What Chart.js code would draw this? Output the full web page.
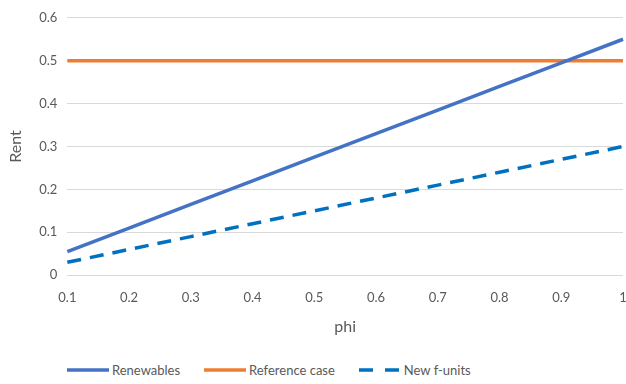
<!DOCTYPE html>
<html>
<head>
<meta charset="utf-8">
<script src="https://cdn.jsdelivr.net/npm/chart.js@4/dist/chart.umd.min.js"></script>
<style>
  body { margin: 0; background: #fff; }
  #wrap { position: relative; width: 626px; height: 384px; }
  #legend { position: absolute; left: 67px; top: 362px; display: flex; font-family: Lato, sans-serif; font-size: 13px; color: #595959; }
  #legend .item { display: flex; align-items: center; margin-right: 24px; }
  #legend svg { margin-right: 3px; }
</style>
</head>
<body>
<div id="wrap">
  <canvas id="myChart" width="626" height="345"></canvas>
  <div id="legend"></div>
</div>
<script>
// x categories (phi)
var phiLabels = ["0.1", "0.2", "0.3", "0.4", "0.5", "0.6", "0.7", "0.8", "0.9", "1"];
// series values
var renewables = [0.055, 0.11, 0.165, 0.22, 0.275, 0.33, 0.385, 0.44, 0.495, 0.55];
var referenceCase = [0.5, 0.5, 0.5, 0.5, 0.5, 0.5, 0.5, 0.5, 0.5, 0.5];
var newFUnits = [0.03, 0.06, 0.09, 0.12, 0.15, 0.18, 0.21, 0.24, 0.27, 0.3];
var yTicks = [0, 0.1, 0.2, 0.3, 0.4, 0.5, 0.6];

var fontName = "Lato, sans-serif";
var textColor = "#595959";

var ctx = document.getElementById("myChart");
var myChart = new Chart(ctx, {
    type: 'line',
    data: {
        labels: phiLabels,
        datasets: [
            {
                label: 'Renewables',
                data: renewables,
                borderColor: "#4472C4",
                borderWidth: 3.5,
                pointRadius: 0
            }, {
                label: 'Reference case',
                data: referenceCase,
                borderColor: "#ED7D31",
                borderWidth: 3.5,
                pointRadius: 0
            }, {
                label: 'New f-units',
                data: newFUnits,
                borderColor: "#0070C0",
                borderWidth: 3.5,
                borderDash: [14, 9],
                pointRadius: 0
            }
        ]
    },
    options: {
        responsive: false,
        animation: false,
        layout: { padding: { top: 12, right: 0, bottom: 5, left: 0 } },
        plugins: {
            legend: { display: false },
            tooltip: { enabled: false }
        },
        scales: {
            x: {
                offset: false,
                grid: { display: false },
                border: { display: false },
                ticks: { color: textColor, font: { family: fontName, size: 13 }, maxRotation: 0, padding: 7 },
                title: { display: true, text: 'phi', color: textColor, font: { family: fontName, size: 16 }, padding: { top: 4 } },
                // let the last label "1" sit at the right edge like the original
                afterFit: function(scale) { scale.paddingRight = 3; }
            },
            y: {
                min: 0,
                max: 0.6,
                afterBuildTicks: function(axis) {
                    axis.ticks = yTicks.map(function(v) { return { value: v }; });
                },
                grid: { color: "#d9d9d9", lineWidth: 1, drawTicks: false },
                border: { display: false },
                ticks: { color: textColor, font: { family: fontName, size: 13 }, padding: 10 },
                title: { display: true, text: 'Rent', color: textColor, font: { family: fontName, size: 16 }, padding: { top: 6, bottom: 4 } }
            }
        }
    }
});

// html legend built from the datasets
var legendDiv = document.getElementById("legend");
myChart.data.datasets.forEach(function(ds) {
    var dash = ds.borderDash ? ' stroke-dasharray="14 12"' : '';
    var item = document.createElement("div");
    item.className = "item";
    item.innerHTML = '<svg width="42" height="6"><line x1="0" y1="3" x2="42" y2="3" stroke="' + ds.borderColor +
        '" stroke-width="3.5"' + dash + '/></svg><span>' + ds.label + '</span>';
    legendDiv.appendChild(item);
});
</script>
</body>
</html>
